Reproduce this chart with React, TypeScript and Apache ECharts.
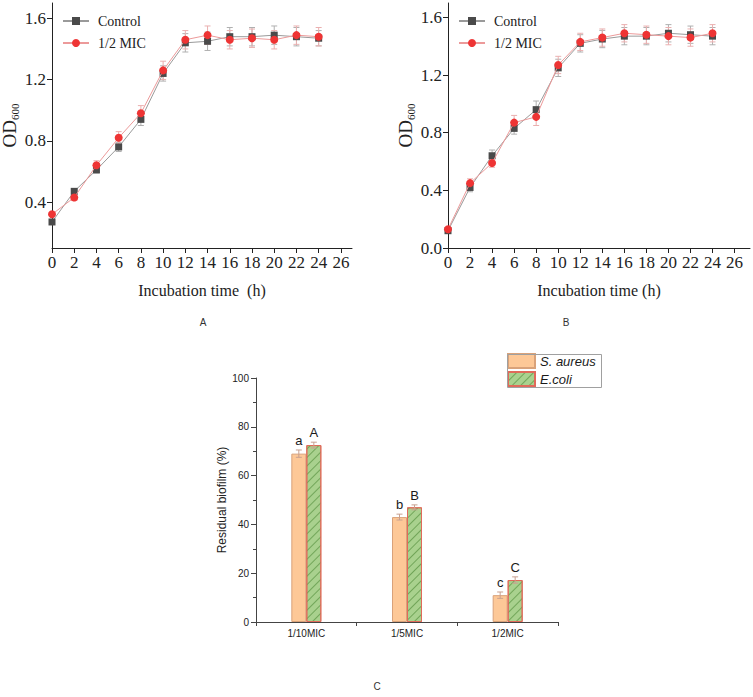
import React, { useEffect, useRef } from 'react';
import * as echarts from 'echarts';

// ---------- data ----------
const hours = [0, 2, 4, 6, 8, 10, 12, 14, 16, 18, 20, 22, 24];
const hourTicks = [0, 2, 4, 6, 8, 10, 12, 14, 16, 18, 20, 22, 24, 26];

const panelAControl = [0.27, 0.47, 0.61, 0.76, 0.94, 1.24, 1.44, 1.45, 1.48, 1.48, 1.49, 1.48, 1.47];
const panelAControlErr = [0.01, 0.015, 0.02, 0.03, 0.04, 0.05, 0.06, 0.06, 0.06, 0.06, 0.06, 0.06, 0.05];
const panelAMic = [0.32, 0.43, 0.64, 0.82, 0.98, 1.26, 1.46, 1.49, 1.46, 1.47, 1.46, 1.49, 1.48];
const panelAMicErr = [0.01, 0.02, 0.03, 0.04, 0.05, 0.06, 0.06, 0.06, 0.06, 0.06, 0.06, 0.06, 0.06];
const panelATicks = [0.4, 0.8, 1.2, 1.6];

const panelBControl = [0.12, 0.42, 0.64, 0.83, 0.96, 1.25, 1.42, 1.45, 1.47, 1.47, 1.49, 1.48, 1.47];
const panelBControlErr = [0.01, 0.03, 0.04, 0.04, 0.06, 0.06, 0.06, 0.06, 0.06, 0.06, 0.06, 0.06, 0.06];
const panelBMic = [0.13, 0.45, 0.59, 0.87, 0.91, 1.27, 1.43, 1.46, 1.49, 1.48, 1.47, 1.46, 1.49];
const panelBMicErr = [0.01, 0.03, 0.03, 0.05, 0.06, 0.06, 0.06, 0.06, 0.06, 0.06, 0.06, 0.06, 0.06];
const panelBTicks = [0, 0.4, 0.8, 1.2, 1.6];

const biofilmCategories = ['1/10MIC', '1/5MIC', '1/2MIC'];
const sAureus = [69, 43, 11];
const sAureusErr = [1.5, 1.2, 1.3];
const sAureusLetters = ['a', 'b', 'c'];
const eColi = [72.5, 47, 17.2];
const eColiErr = [1.2, 1.0, 1.3];
const eColiLetters = ['A', 'B', 'C'];

// ---------- styles ----------
const SERIF = "'Liberation Serif', 'Times New Roman', serif";
const SANS = "'Liberation Sans', Arial, sans-serif";
const CONTROL_MARK = '#4a4a4a';
const CONTROL_LINE = '#9a9a9a';
const CONTROL_ERR = '#b0b0b0';
const MIC_MARK = '#ee3434';
const MIC_LINE = '#ec9a9a';
const MIC_ERR = '#eab0b0';

function lineErrorRender(color: string) {
  return (params: any, api: any) => {
    const x = api.value(0);
    const y = api.value(1);
    const e = api.value(2);
    const hi = api.coord([x, y + e]);
    const lo = api.coord([x, y - e]);
    const w = 3;
    const st = { stroke: color, lineWidth: 1 };
    return {
      type: 'group',
      children: [
        { type: 'line', shape: { x1: hi[0], y1: hi[1], x2: lo[0], y2: lo[1] }, style: st },
        { type: 'line', shape: { x1: hi[0] - w, y1: hi[1], x2: hi[0] + w, y2: hi[1] }, style: st },
        { type: 'line', shape: { x1: lo[0] - w, y1: lo[1], x2: lo[0] + w, y2: lo[1] }, style: st },
      ],
    };
  };
}

function barErrorRender(dx: number, letters: string[]) {
  return (params: any, api: any) => {
    const c = api.value(0);
    const y = api.value(1);
    const e = api.value(2);
    const hi = api.coord([c, y + e]);
    const lo = api.coord([c, y - e]);
    const x = hi[0] + dx;
    const w = 3;
    const st = { stroke: '#c8a090', lineWidth: 1 };
    return {
      type: 'group',
      children: [
        { type: 'line', shape: { x1: x, y1: hi[1], x2: x, y2: lo[1] }, style: st },
        { type: 'line', shape: { x1: x - w, y1: hi[1], x2: x + w, y2: hi[1] }, style: st },
        { type: 'line', shape: { x1: x - w, y1: lo[1], x2: x + w, y2: lo[1] }, style: st },
        {
          type: 'text',
          x: x,
          y: hi[1] - 3,
          style: {
            text: letters[params.dataIndex],
            align: 'center',
            verticalAlign: 'bottom',
            fontSize: 13,
            fontFamily: SANS,
            fill: '#1a1a1a',
          },
        },
      ],
    };
  };
}

function growthX(gridIndex: number, max: number, name: string) {
  return {
    type: 'value',
    gridIndex,
    min: 0,
    max,
    name,
    nameLocation: 'middle',
    nameGap: 34,
    nameTextStyle: { fontFamily: SERIF, fontSize: 16, color: '#222' },
    axisLine: { show: true, lineStyle: { color: '#222', width: 1 } },
    axisTick: { show: true, length: 5, customValues: hourTicks, lineStyle: { color: '#222' } },
    axisLabel: {
      customValues: hourTicks,
      fontFamily: SERIF,
      fontSize: 17,
      color: '#222',
      margin: 6,
    },
    splitLine: { show: false },
  };
}

function growthY(gridIndex: number, min: number, ticks: number[]) {
  return {
    type: 'value',
    gridIndex,
    min,
    max: 1.7,
    name: '{a|OD}{b|600}',
    nameLocation: 'middle',
    nameRotate: 90,
    nameGap: 32,
    nameTextStyle: {
      rich: {
        a: { fontFamily: SERIF, fontSize: 19, color: '#222', lineHeight: 22 },
        b: { fontFamily: SERIF, fontSize: 11, color: '#222', lineHeight: 22, verticalAlign: 'bottom', padding: [7, 0, 0, 0] },
      },
    },
    axisLine: { show: true, lineStyle: { color: '#222', width: 1 } },
    axisTick: { show: true, length: 5, customValues: ticks, lineStyle: { color: '#222' } },
    axisLabel: {
      customValues: ticks,
      formatter: (v: number) => v.toFixed(1),
      fontFamily: SERIF,
      fontSize: 17,
      color: '#222',
      margin: 6,
    },
    splitLine: { show: false },
  };
}

function growthSeries(axis: number, control: number[], controlErr: number[], mic: number[], micErr: number[]) {
  return [
    {
      type: 'custom',
      name: 'errC' + axis,
      xAxisIndex: axis,
      yAxisIndex: axis,
      z: 1,
      renderItem: lineErrorRender(CONTROL_ERR),
      encode: { x: 0, y: 1 },
      data: hours.map((h, i) => [h, control[i], controlErr[i]]),
    },
    {
      type: 'custom',
      name: 'errM' + axis,
      xAxisIndex: axis,
      yAxisIndex: axis,
      z: 1,
      renderItem: lineErrorRender(MIC_ERR),
      encode: { x: 0, y: 1 },
      data: hours.map((h, i) => [h, mic[i], micErr[i]]),
    },
    {
      type: 'line',
      name: 'Control',
      xAxisIndex: axis,
      yAxisIndex: axis,
      z: 3,
      symbol: 'rect',
      symbolSize: 7,
      itemStyle: { color: CONTROL_MARK },
      lineStyle: { color: CONTROL_LINE, width: 1 },
      data: hours.map((h, i) => [h, control[i]]),
    },
    {
      type: 'line',
      name: '1/2 MIC',
      xAxisIndex: axis,
      yAxisIndex: axis,
      z: 4,
      symbol: 'circle',
      symbolSize: 8,
      itemStyle: { color: MIC_MARK },
      lineStyle: { color: MIC_LINE, width: 1 },
      data: hours.map((h, i) => [h, mic[i]]),
    },
  ];
}

const growthLegend = (left: number) => ({
  data: ['Control', '1/2 MIC'],
  orient: 'vertical',
  left,
  top: 14,
  itemWidth: 26,
  itemHeight: 10,
  itemGap: 8,
  padding: 0,
  textStyle: { fontFamily: SERIF, fontSize: 14, color: '#222', padding: [0, 0, 0, 4] },
});

export default function App() {
  const ref = useRef<HTMLDivElement>(null);
  useEffect(() => {
    const chart = echarts.init(ref.current as HTMLDivElement, undefined, { renderer: 'svg' });
    const decal = {
      symbol: 'rect',
      symbolSize: 1,
      color: 'rgba(95,150,70,0.75)',
      dashArrayX: [1, 0],
      dashArrayY: [1, 5],
      rotation: -Math.PI / 4,
    };
    const option: any = {
      animation: false,
      backgroundColor: '#fff',
      grid: [
        { left: 52, top: 3, width: 300, height: 245, outerBoundsMode: 'none' },
        { left: 448, top: 3, width: 302, height: 245, outerBoundsMode: 'none' },
        { left: 256, top: 378, width: 302, height: 244, outerBoundsMode: 'none' },
      ],
      legend: [
        growthLegend(62),
        growthLegend(458),
        {
          data: ['S. aureus', 'E.coli'],
          orient: 'vertical',
          left: 507,
          top: 353,
          icon: 'rect',
          itemWidth: 27,
          itemHeight: 14,
          itemGap: 2,
          padding: 0,
          textStyle: { fontFamily: SANS, fontSize: 13, fontStyle: 'italic', color: '#1a1a1a' },
        },
      ],
      xAxis: [
        growthX(0, 27, 'Incubation time  (h)'),
        growthX(1, 27.4, 'Incubation time (h)'),
        {
          type: 'category',
          gridIndex: 2,
          data: biofilmCategories,
          axisLine: { show: true, lineStyle: { color: '#444' } },
          axisTick: { show: true, length: 4, lineStyle: { color: '#444' } },
          axisLabel: { fontFamily: SANS, fontSize: 10, color: '#222', margin: 6 },
        },
      ],
      yAxis: [
        growthY(0, 0.1, panelATicks),
        growthY(1, 0, panelBTicks),
        {
          type: 'value',
          gridIndex: 2,
          min: 0,
          max: 100,
          interval: 20,
          name: 'Residual biofilm (%)',
          nameLocation: 'middle',
          nameRotate: 90,
          nameGap: 28,
          nameTextStyle: { fontFamily: SANS, fontSize: 12, color: '#222' },
          axisLine: { show: true, lineStyle: { color: '#444' } },
          axisTick: { show: true, length: 5, lineStyle: { color: '#444' } },
          minorTick: { show: true, splitNumber: 2, length: 3, lineStyle: { color: '#444' } },
          axisLabel: { fontFamily: SANS, fontSize: 10, color: '#222', margin: 7 },
          splitLine: { show: false },
        },
      ],
      series: [
        ...growthSeries(0, panelAControl, panelAControlErr, panelAMic, panelAMicErr),
        ...growthSeries(1, panelBControl, panelBControlErr, panelBMic, panelBMicErr),
        {
          type: 'bar',
          name: 'S. aureus',
          xAxisIndex: 2,
          yAxisIndex: 2,
          barWidth: 15,
          barGap: '0%',
          itemStyle: { color: '#fdc897', borderColor: '#d9a27a', borderWidth: 1 },
          data: sAureus,
        },
        {
          type: 'bar',
          name: 'E.coli',
          xAxisIndex: 2,
          yAxisIndex: 2,
          barWidth: 15,
          barGap: '0%',
          itemStyle: { color: '#a9d18e', borderColor: '#e06a5a', borderWidth: 1, decal },
          data: eColi,
        },
        {
          type: 'custom',
          name: 'errS',
          xAxisIndex: 2,
          yAxisIndex: 2,
          z: 5,
          renderItem: barErrorRender(-7.5, sAureusLetters),
          encode: { x: 0, y: 1 },
          data: sAureus.map((v, i) => [i, v, sAureusErr[i]]),
        },
        {
          type: 'custom',
          name: 'errE',
          xAxisIndex: 2,
          yAxisIndex: 2,
          z: 5,
          renderItem: barErrorRender(7.5, eColiLetters),
          encode: { x: 0, y: 1 },
          data: eColi.map((v, i) => [i, v, eColiErr[i]]),
        },
      ],
      graphic: [
        { type: 'rect', left: 505, top: 352, shape: { width: 94, height: 33 }, style: { fill: 'none', stroke: '#a0a0a0', lineWidth: 1 }, z: 10 },
        { type: 'text', x: 203, y: 322, style: { text: 'A', fontFamily: SANS, fontSize: 10, fill: '#333', align: 'center', verticalAlign: 'middle' } },
        { type: 'text', x: 566, y: 322, style: { text: 'B', fontFamily: SANS, fontSize: 10, fill: '#333', align: 'center', verticalAlign: 'middle' } },
        { type: 'text', x: 377, y: 686, style: { text: 'C', fontFamily: SANS, fontSize: 10, fill: '#333', align: 'center', verticalAlign: 'middle' } },
      ],
    };
    chart.setOption(option);
    return () => chart.dispose();
  }, []);
  return (
    <div
      ref={ref}
      style={{ position: 'absolute', left: 0, top: 0, width: 753, height: 697, background: '#fff' }}
    />
  );
}
